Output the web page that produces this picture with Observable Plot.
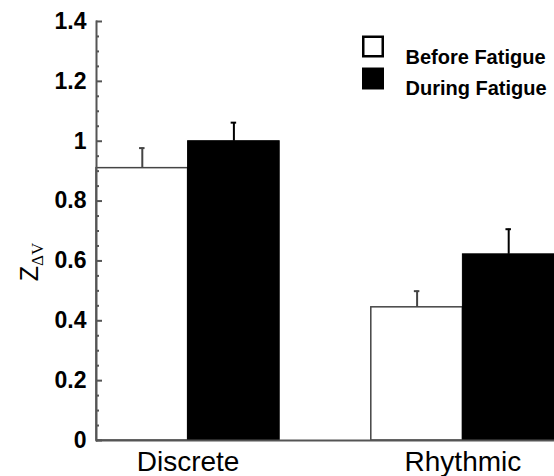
<!DOCTYPE html>
<html><head><meta charset="utf-8">
<script src="https://cdn.jsdelivr.net/npm/d3@7"></script>
<script src="https://cdn.jsdelivr.net/npm/@observablehq/plot@0.6"></script>
<style>body{margin:0;background:#fff}</style>
</head><body><div id="chart"></div>
<script>
const categories = ["Discrete", "Rhythmic"];
const series = ["Before Fatigue", "During Fatigue"];
const beforeMean = [0.91, 0.445];
const duringMean = [1.00, 0.622];
const beforeErr = [0.067, 0.054];
const duringErr = [0.062, 0.084];
const yTicks = [0, 0.2, 0.4, 0.6, 0.8, 1, 1.2, 1.4];
const yTickLabels = ["0", "0.2", "0.4", "0.6", "0.8", "1", "1.2", "1.4"];
const yMinorTicks = d3.range(0, 1.4001, 0.05).map(v => +v.toFixed(2)).filter(v => !yTicks.includes(v));

const rows = categories.flatMap((c, g) => series.map((s, k) => {
  const mean = k ? duringMean[g] : beforeMean[g];
  const err = k ? duringErr[g] : beforeErr[g];
  const x1 = g * 3 + k;
  return {category: c, series: s, slot: k, x1, x2: x1 + 1, xc: x1 + 0.5, mean, top: mean + err};
}));
const before = rows.filter(d => d.slot === 0);
const during = rows.filter(d => d.slot === 1);
const groupCenters = categories.map((c, g) => g * 3 + 1);
const axisColor = "#555";

const chart = Plot.plot({
  width: 554, height: 476,
  marginLeft: 96, marginRight: 0, marginTop: 21, marginBottom: 36,
  style: {fontFamily: "'Liberation Sans', Arial, sans-serif", background: "#fff", color: "#000"},
  x: {domain: [0, 5], axis: null},
  y: {domain: [0, 1.4], axis: null},
  marks: [
    Plot.rectY(before, {x1: "x1", x2: "x2", y: "mean", fill: "white", stroke: "#444", strokeWidth: 1.5}),
    Plot.rectY(during, {x1: "x1", x2: "x2", y: "mean", fill: "black", stroke: "black", strokeWidth: 1}),
    Plot.ruleX(before, {x: "xc", y1: "mean", y2: "top", stroke: "#444", strokeWidth: 2}),
    Plot.ruleX(during, {x: "xc", y1: "mean", y2: "top", stroke: "black", strokeWidth: 2}),
    Plot.ruleY(before, {y: "top", x1: d => d.xc - 0.03, x2: d => d.xc + 0.03, stroke: "#444", strokeWidth: 2}),
    Plot.ruleY(during, {y: "top", x1: d => d.xc - 0.03, x2: d => d.xc + 0.03, stroke: "black", strokeWidth: 2}),
    Plot.frame({anchor: "left", stroke: axisColor, strokeWidth: 2}),
    Plot.ruleY([0], {stroke: axisColor, strokeWidth: 2}),
    Plot.axisY(yTicks, {tickSize: -6, fill: "none", stroke: axisColor, strokeWidth: 2, label: null}),
    Plot.axisY(yMinorTicks, {tickSize: -3, fill: "none", stroke: axisColor, strokeWidth: 2, label: null}),
    Plot.axisY(yTicks, {tickSize: 0, tickPadding: 10, tickFormat: d => yTickLabels[yTicks.indexOf(d)], fontSize: 23, fontWeight: "bold", label: null}),
    Plot.axisX(groupCenters, {tickSize: 0, tickPadding: 11, tickFormat: d => categories[groupCenters.indexOf(d)], fontSize: 28, label: null}),
    Plot.dot([series[0]], {frameAnchor: "top-right", dx: -181.5, dy: 25, symbol: "square", r: 11, fill: "white", stroke: "black", strokeWidth: 2.5}),
    Plot.dot([series[1]], {frameAnchor: "top-right", dx: -181.5, dy: 57, symbol: "square", r: 12.4, fill: "black"}),
    Plot.text([series[0]], {frameAnchor: "top-right", dx: -149, dy: 28, text: d => d, textAnchor: "start", fontSize: 20, fontWeight: "bold"}),
    Plot.text([series[1]], {frameAnchor: "top-right", dx: -149, dy: 59, text: d => d, textAnchor: "start", fontSize: 20, fontWeight: "bold"})
  ]
});
document.getElementById("chart").append(chart);

// y-axis label Z with subscript ΔV
const yl = d3.select(chart).append("text")
  .attr("transform", "translate(38,262) rotate(-90)")
  .attr("font-family", "'Liberation Sans', Arial, sans-serif")
  .attr("font-size", 25)
  .attr("fill", "#000");
yl.append("tspan").text("Z");
yl.append("tspan").attr("font-family", "'Liberation Serif', 'Times New Roman', serif").attr("font-size", 17).attr("dy", 5).text("ΔV");
</script>
</body></html>
